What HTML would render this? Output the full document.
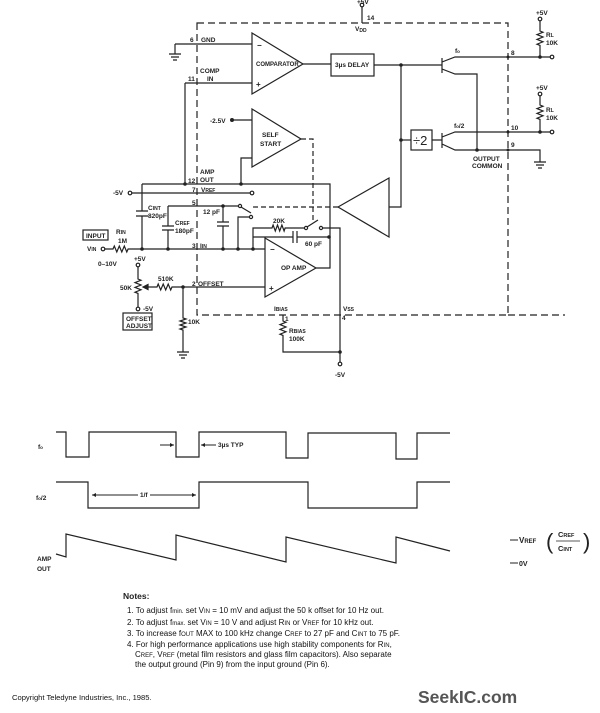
<!DOCTYPE html>
<html><head><meta charset="utf-8"><style>
html,body{margin:0;padding:0;background:#fff;}
svg{display:block;}
</style></head><body>
<svg width="600" height="713" viewBox="0 0 600 713" xmlns="http://www.w3.org/2000/svg" font-family="Liberation Sans, sans-serif" font-size="6.5" font-weight="bold" fill="#222">
<g fill="none" stroke="#222" stroke-width="1.2">
<path d="M197 23 H508 V315 H197 Z" stroke-dasharray="7,4"/>
<path d="M508 315 H565" stroke-dasharray="7,4"/>
<circle cx="362" cy="5" r="1.8"/><path d="M362 7 V23"/>
<path d="M175 44 H252 M175 44 V54 M169 54 H181 M171 57 H179 M173 60 H177"/>
<path d="M252 33 L303 64 L252 94 Z"/>
<path d="M185 83 H252 M185 83 V184"/>
<path d="M303 64 H331"/>
<rect x="331" y="54" width="43" height="22"/>
<path d="M374 65 H442"/>
<path d="M252 109 L301 139 L252 167 Z"/>
<path d="M232 120 H252"/>
<path d="M252 158 H241 V184"/>
<path d="M301 139 H313 V222" stroke-dasharray="5,3"/>
<path d="M142 184 H330 V268 H316"/>
<path d="M132 193 H250"/><circle cx="130" cy="193" r="1.8"/><circle cx="252" cy="193" r="1.8"/>
<path d="M142 184 V211 M142 216 V249 M136 211 H148 M136 216 H148"/>
<path d="M168 206 H238 M168 206 V226 M168 230 V249 M162 226 H174 M162 230 H174"/>
<path d="M223 206 V222 M223 226 V249 M217 222 H229 M217 226 H229"/>
<circle cx="240" cy="206" r="1.6"/><path d="M241 207 L251 213"/>
<circle cx="251" cy="217" r="1.6"/><path d="M250 217 H238 V249"/>
<path d="M253 207 H338" stroke-dasharray="5,3"/>
<circle cx="103" cy="249" r="1.8"/>
<path d="M105 249 H113 l1.3 -3 l2.5 6 l2.5 -6 l2.5 6 l2.5 -6 l2.5 6 l1.3 -3 H265"/>
<path d="M253 249 V228 H272 l1.1 -3 l2.2 6 l2.2 -6 l2.2 6 l2.2 -6 l2.2 6 l1 -3 H304"/>
<circle cx="306" cy="228" r="1.6"/><path d="M307 227 L318 220"/>
<circle cx="321" cy="228" r="1.6"/><path d="M323 228 H340 V362"/>
<path d="M253 237 H293 M293 231 V243 M297 231 V243 M297 237 H329"/>
<circle cx="340" cy="364" r="1.8"/>
<path d="M265 238 L316 268 L265 297 Z"/>
<path d="M145 287 H157 l1.2 -3 l2.5 6 l2.5 -6 l2.5 6 l2.5 -6 l2.5 6 l1.3 -3 H265"/>
<path d="M143 287 l5 -2.5 v5 z" fill="#222"/>
<path d="M183 287 V318 l3 1 l-6 2 l6 2 l-6 2 l6 2 l-6 2 l3 1 V352 M177 352 H189 M179 355 H187 M181 358 H185"/>
<circle cx="138" cy="265" r="1.8"/><path d="M138 267 V279 l3 1.2 l-6 2.4 l6 2.4 l-6 2.4 l6 2.4 l-6 2.4 l3 1.2 V307"/><circle cx="138" cy="309" r="1.8"/>
<rect x="123" y="313" width="29" height="17"/>
<rect x="83" y="230" width="25" height="10"/>
<path d="M283 315 V321 l3 1.2 l-6 2.4 l6 2.4 l-6 2.4 l6 2.4 l-6 2.4 l3 1.2 V352 H340"/>
<path d="M338 207 L389 178 L389 237 Z"/>
<path d="M389 207 H401 V65"/>
<path d="M442 58 V73 M442 62 L455 57 H550 M442 69 L455 74 H477 V150"/>
<circle cx="552" cy="57" r="1.8"/>
<circle cx="540" cy="19" r="1.8"/><path d="M540 21 V31 l3 1.2 l-6 2.4 l6 2.4 l-6 2.4 l6 2.4 l-6 2.4 l3 1.2 V57"/>
<path d="M401 140 H411"/><rect x="411" y="130" width="21" height="20"/>
<path d="M432 140 H442 M442 133 V148 M442 137 L455 132 H550 M442 144 L455 150 H540 V162 M534 162 H546 M536 165 H544 M538 168 H542"/>
<circle cx="552" cy="132" r="1.8"/>
<circle cx="540" cy="94" r="1.8"/><path d="M540 96 V105 l3 1.2 l-6 2.4 l6 2.4 l-6 2.4 l6 2.4 l-6 2.4 l3 1.2 V132"/>
<path d="M56 432 H66 V457 H89 V432 H176 V457 H199 V432 H286 V458 H308 V433 H396 V459 H417 V433 H450"/>
<path d="M56 482 H88 V508 H199 V482 H308 V508 H417 V482 H450"/>
<path d="M56 554 L66 557 V534 L176 560 V535 L286 562 V537 L396 563 V537 L450 551"/>
<path d="M160 445 H174 M216 445 H201 M92 495 H138 M150 495 H196" stroke-width="0.9"/>
<path d="M510 540 H518 M510 563 H518" stroke-width="0.9"/>
</g>
<g fill="#222">
<circle cx="185" cy="184" r="1.8"/><circle cx="241" cy="184" r="1.8"/><circle cx="232" cy="120" r="2"/>
<circle cx="142" cy="249" r="1.8"/><circle cx="168" cy="249" r="1.8"/><circle cx="223" cy="249" r="1.8"/><circle cx="238" cy="249" r="1.8"/><circle cx="253" cy="249" r="1.8"/>
<circle cx="223" cy="206" r="1.8"/><circle cx="329" cy="237" r="1.8"/><circle cx="183" cy="287" r="1.8"/><circle cx="340" cy="352" r="1.8"/>
<circle cx="401" cy="65" r="1.8"/><circle cx="401" cy="140" r="1.8"/><circle cx="477" cy="150" r="1.8"/>
<circle cx="540" cy="57" r="1.8"/><circle cx="540" cy="132" r="1.8"/>
<circle cx="508" cy="57" r="1.5"/><circle cx="508" cy="132" r="1.5"/><circle cx="508" cy="150" r="1.5"/>
<path d="M174 445 l-4 -2 v4 z M201 445 l4 -2 v4 z M92 495 l4 -2 v4 z M196 495 l-4 -2 v4 z"/>
</g>
<text x="357" y="4">+5V</text><text x="367" y="20">14</text><text x="355" y="31">V<tspan font-size="5" dy="1">DD</tspan></text>
<text x="190" y="42">6</text><text x="201" y="42">GND</text>
<text x="200" y="73">COMP</text><text x="207" y="81">IN</text><text x="188" y="81">11</text>
<text x="257" y="48" font-size="8">−</text><text x="256" y="87" font-size="8">+</text>
<text x="256" y="66" font-size="6">COMPARATOR</text>
<text x="335" y="67">3µs DELAY</text>
<text x="210" y="123">-2.5V</text>
<text x="262" y="137">SELF</text><text x="260" y="146">START</text>
<text x="200" y="174">AMP</text><text x="188" y="183">12</text><text x="200" y="182">OUT</text>
<text x="113" y="195">-5V</text><text x="192" y="192">7</text><text x="201" y="192">V<tspan font-size="5">REF</tspan></text>
<text x="148" y="210">C<tspan font-size="5">INT</tspan></text><text x="148" y="218">820pF</text>
<text x="192" y="205">5</text>
<text x="175" y="225">C<tspan font-size="5">REF</tspan></text><text x="175" y="233">180pF</text>
<text x="203" y="214">12 pF</text>
<text x="273" y="223">20K</text><text x="305" y="246">60 pF</text>
<text x="86" y="238">INPUT</text>
<text x="116" y="234">R<tspan font-size="5">IN</tspan></text><text x="118" y="243">1M</text>
<text x="87" y="251">V<tspan font-size="5">IN</tspan></text>
<text x="98" y="266">0–10V</text>
<text x="192" y="248">3</text><text x="200" y="248">I<tspan font-size="5">IN</tspan></text>
<text x="270" y="252" font-size="8">−</text><text x="269" y="291" font-size="8">+</text>
<text x="281" y="270">OP AMP</text>
<text x="134" y="261">+5V</text><text x="120" y="290">50K</text><text x="143" y="311">-5V</text>
<text x="126" y="321">OFFSET</text><text x="126" y="328">ADJUST</text>
<text x="158" y="281">510K</text><text x="192" y="286">2</text><text x="198" y="286">OFFSET</text>
<text x="188" y="324">10K</text>
<text x="274" y="311">I<tspan font-size="5">BIAS</tspan></text><text x="285" y="321">1</text>
<text x="289" y="333">R<tspan font-size="5">BIAS</tspan></text><text x="289" y="341">100K</text>
<text x="343" y="311">V<tspan font-size="5">SS</tspan></text><text x="342" y="320">4</text>
<text x="335" y="377">-5V</text>
<text x="455" y="53">f<tspan font-size="4.5">o</tspan></text><text x="511" y="55">8</text>
<text x="536" y="15">+5V</text><text x="546" y="37">R<tspan font-size="5">L</tspan></text><text x="546" y="45">10K</text>
<text x="536" y="90">+5V</text><text x="546" y="112">R<tspan font-size="5">L</tspan></text><text x="546" y="120">10K</text>
<text x="413" y="145" font-size="13" font-weight="normal">÷2</text>
<text x="454" y="128">f<tspan font-size="4.5">o</tspan>/2</text><text x="511" y="130">10</text><text x="511" y="147">9</text>
<text x="473" y="161">OUTPUT</text><text x="472" y="168">COMMON</text>
<text x="38" y="449">f<tspan font-size="4.5">o</tspan></text>
<text x="218" y="447">3µs TYP</text>
<text x="36" y="500">f<tspan font-size="4.5">o</tspan>/2</text>
<text x="140" y="497">1/f</text>
<text x="37" y="561">AMP</text><text x="37" y="571">OUT</text>
<text x="519" y="543" font-size="8">V<tspan font-size="6">REF</tspan></text>
<text x="546" y="549" font-size="22" font-weight="normal">(</text><text x="583" y="549" font-size="22" font-weight="normal">)</text>
<text x="558" y="537" font-size="7.5">C<tspan font-size="5.5">REF</tspan></text><path d="M556 541 H580" stroke="#222" stroke-width="0.8"/><text x="558" y="551" font-size="7.5">C<tspan font-size="5.5">INT</tspan></text>
<text x="519" y="566" font-size="7">0V</text>
<text x="123" y="599" font-size="8.5">Notes:</text>
<g font-weight="normal" font-size="8" fill="#111">
<text x="127" y="613">1. To adjust f<tspan font-size="6">min.</tspan> set V<tspan font-size="6">IN</tspan> = 10 mV and adjust the 50 k offset for 10 Hz out.</text>
<text x="127" y="625">2. To adjust f<tspan font-size="6">max.</tspan> set V<tspan font-size="6">IN</tspan> = 10 V and adjust R<tspan font-size="6">IN</tspan> or V<tspan font-size="6">REF</tspan> for 10 kHz out.</text>
<text x="127" y="636">3. To increase f<tspan font-size="6">OUT</tspan> MAX to 100 kHz change C<tspan font-size="6">REF</tspan> to 27 pF and C<tspan font-size="6">INT</tspan> to 75 pF.</text>
<text x="127" y="647">4. For high performance applications use high stability components for R<tspan font-size="6">IN</tspan>,</text>
<text x="135" y="657">C<tspan font-size="6">REF</tspan>, V<tspan font-size="6">REF</tspan> (metal film resistors and glass film capacitors). Also separate</text>
<text x="135" y="667">the output ground (Pin 9) from the input ground (Pin 6).</text>
<text x="12" y="700" font-size="7.6">Copyright Teledyne Industries, Inc., 1985.</text>
</g>
<text x="418" y="703" font-size="17.5" fill="#555">SeekIC.com</text>
</svg>
</body></html>
